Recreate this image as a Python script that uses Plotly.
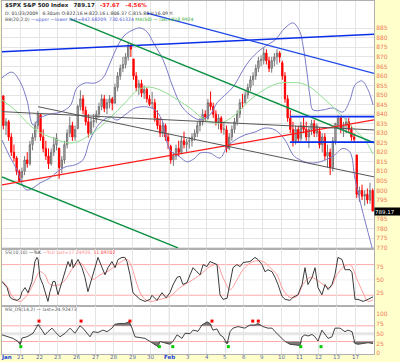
import plotly.graph_objects as go

# ---------------- data ----------------
day_labels = ["Jan", "21", "22", "23", "26", "27", "28", "29", "30", "Feb",
              "3", "4", "5", "6", "9", "10", "11", "12", "13", "17"]
BARS_PER_DAY = 7

open_ = [849.6, 834, 836, 828, 820, 817, 810,
         806.8, 810, 816, 814, 824, 828, 834,
         839.7, 828, 822, 818, 814, 820, 824,
         822.2, 812, 816, 824, 830, 834, 828,
         832.5, 844, 848, 842, 836, 830, 836,
         837.3, 840, 844, 848, 843, 846, 848,
         845.7, 854, 860, 864, 866, 870, 876,
         868.9, 860, 854, 856, 851, 853, 848,
         845.7, 846, 838, 834, 830, 834, 828,
         823.1, 816, 818, 822, 820, 826, 824,
         825.7, 826, 828, 830, 834, 836, 840,
         837.8, 846, 844, 840, 836, 838, 832,
         831.8, 822, 828, 832, 836, 840, 846,
         846.1, 850, 854, 858, 860, 864, 868,
         868.2, 872, 868, 864, 868, 870, 872,
         866.9, 860, 848, 838, 832, 826, 832,
         827.4, 834, 832, 828, 832, 835, 830,
         831, 824, 828, 818, 820, 812, 826,
         834, 838, 832, 834, 836, 832, 828,
         818.6, 798, 800, 797, 798, 795, 800]
high_ = [849.6, 838, 837, 830, 824, 818, 811,
         812, 818, 820, 826, 830, 836, 841.7,
         839.7, 832, 826, 822, 822, 828, 830,
         822.2, 818, 826, 832, 838.6, 836, 834,
         845, 852.5, 850, 844, 840, 838, 840,
         842, 846, 850.4, 850, 848, 850, 849,
         856, 862, 866, 870, 872, 877.9, 877,
         868.9, 862, 858, 858, 855, 854, 850,
         851.7, 848, 842, 838, 836, 835, 830,
         824, 820, 824, 826, 828, 830.8, 827,
         828, 830, 832, 836, 838, 842.6, 842,
         848, 851.9, 846, 842, 840, 839, 836,
         834, 830, 834, 838, 842, 848, 850.6,
         852, 856, 860, 862, 866, 870, 870.8,
         875, 874, 870, 870, 872, 874, 873,
         868, 862, 850, 842, 836, 834, 834,
         836, 838.2, 836, 834, 837, 837, 835,
         833, 830, 830, 824, 822, 828, 835.2,
         839.4, 839, 836, 838, 838, 834, 830,
         818.6, 802, 803, 800, 801, 804, 801]
low_ = [832, 829, 826, 818, 815, 808, 804.5,
        804.3, 808, 812, 813, 821, 826, 832,
        826, 820, 816, 811.3, 813, 818, 821,
        806.1, 809, 814, 822, 828, 826, 826,
        832, 842, 840, 834, 827.7, 829, 833,
        835.4, 838, 842, 841, 840, 843, 842,
        845.7, 852, 858, 862, 864, 868, 870,
        858, 852, 850, 849, 848, 846, 844.2,
        843, 836, 832, 828, 828, 826, 821.7,
        814, 812.9, 816, 818, 819, 822, 820,
        822, 823, 826, 828, 831, 834, 836,
        837, 842, 838, 834, 832, 830, 829.2,
        819.9, 821, 826, 830, 834, 838, 843,
        845.4, 848, 852, 855, 858, 862, 865,
        866, 866, 862, 861.7, 865, 866, 867,
        858, 846, 836, 830, 823, 824, 825,
        826, 830, 826, 822.3, 829, 828, 828,
        822, 820, 816, 812, 808.1, 810, 824,
        832, 830, 828, 830, 830, 826, 825.2,
        796, 794, 795, 792, 793, 793, 789.2]
close_ = [834, 836, 828, 820, 817, 810, 805.2,
          810, 816, 814, 824, 828, 834, 840.2,
          828, 822, 818, 814, 820, 824, 827.5,
          812, 816, 824, 830, 834, 828, 832,
          844, 848, 842, 836, 830, 836, 836.6,
          840, 844, 848, 843, 846, 848, 845.7,
          854, 860, 864, 866, 870, 876, 874.1,
          860, 854, 856, 851, 853, 848, 845.1,
          846, 838, 834, 830, 834, 828, 825.9,
          816, 818, 822, 820, 826, 824, 825.4,
          826, 828, 830, 834, 836, 840, 838.5,
          846, 844, 840, 836, 838, 832, 832.2,
          822, 828, 832, 836, 840, 846, 845.9,
          850, 854, 858, 860, 864, 868, 868.6,
          872, 868, 864, 868, 870, 872, 869.9,
          860, 848, 838, 832, 826, 832, 827.2,
          834, 832, 828, 832, 835, 830, 833.7,
          824, 828, 818, 820, 812, 826, 835.2,
          838, 832, 834, 836, 832, 828, 826.8,
          798, 800, 797, 798, 795, 800, 789.17]

# Bollinger bands / MA(50) (x in trading-day units)
bb_up_x = [0, 0.54, 0.97, 1.34, 1.67, 2.04, 2.58, 3.12, 3.66, 4.03,
           4.46, 5.00, 5.43, 5.81, 6.24, 6.61, 7.04, 7.42, 7.80, 8.12,
           8.66, 9.19, 9.68, 10.27, 10.65, 11.18, 11.56, 12.42, 12.96, 13.33,
           13.87, 14.25, 14.68, 15.22, 15.65, 16.02, 16.18, 16.40, 16.56, 16.72,
           17.26, 17.80, 18.33, 18.71, 18.98, 19.35, 19.68, 19.95]
bb_up_v = [859, 862, 857, 847.4, 834.3, 838, 840, 841, 844.3, 853.7,
           856.3, 856.3, 859, 866.8, 876.2, 881.5, 884.1, 885.2, 883.1, 877.8,
           868.4, 854.2, 843.8, 838.5, 837, 839.6, 845.9, 854.2, 863.1, 868.4,
           873.6, 876.2, 878.9, 885.2, 887.8, 883.1, 876.2, 861.6, 849, 842.2,
           842.2, 843.2, 841.1, 847.4, 855.3, 857.4, 852.7, 844.8]
bb_lo_x = [0, 0.43, 0.81, 1.13, 1.34, 1.67, 2.04, 2.58, 2.96, 3.39,
           3.92, 4.35, 4.73, 5.27, 5.81, 6.18, 6.61, 7.15, 7.80, 8.23,
           8.60, 9.03, 9.57, 9.95, 10.38, 10.65, 11.18, 11.72, 12.10, 12.53,
           13.06, 13.60, 14.14, 14.68, 15.22, 15.65, 16.02, 16.56, 17.10, 17.80,
           18.33, 18.71, 18.98, 19.41, 19.68, 19.95]
bb_lo_v = [826.4, 817.5, 810.7, 802.3, 800.2, 801.3, 803.9, 806.5, 809.7, 812.3,
           813.4, 816, 826.4, 835.3, 838.5, 836.9, 839.6, 843.2, 843.8, 842.2,
           836.9, 821.2, 817.5, 815, 817, 819.6, 819.6, 817, 822.8, 826.4,
           829.1, 830.6, 832.7, 831.7, 826.4, 818.6, 816, 814.4, 815, 818,
           822, 820, 806, 788, 778, 768]
ma_x = [0, 0.70, 1.67, 2.58, 3.76, 4.73, 5.81, 6.61, 7.31, 7.85,
        8.49, 9.19, 10.11, 10.91, 11.72, 12.53, 13.33, 14.25, 14.95, 15.48,
        16.02, 16.56, 17.20, 17.80, 18.33, 18.98, 19.52, 19.95]
ma_v = [847.4, 842.2, 832.7, 828, 824.9, 829.1, 838, 845.9, 852.7, 854.2,
        852.7, 849, 843.2, 837, 835.3, 839.6, 847.4, 853.7, 856.3, 856.5,
        856.3, 854.2, 849, 843.8, 838.5, 831.7, 826.4, 819]

# hand-drawn trend lines (start/end in data units)
blue_up_x, blue_up_y = [0, 20], [872.7, 881.9]
blue_dn_x, blue_dn_y = [7.80, 20], [893.0, 861.3]
green_up_x, green_up_y = [3.66, 20], [889.9, 824.9]
green_lo_x, green_lo_y = [0, 9.46], [807.1, 769.9]
red_x, red_y = [0, 20], [802.9, 837.0]
gray_a_x, gray_a_y = [0, 20], [841.3, 831.7]
gray_b_x, gray_b_y = [1.94, 20], [843.9, 807.1]
blue_h1_x, blue_h1_y = [15.48, 20], [838.7, 838.7]
blue_h2_x, blue_h2_y = [15.48, 20], [825.3, 825.3]

# slow stochastics
k_x = [0.00, 0.27, 0.43, 0.59, 0.81, 0.97, 1.08, 1.24, 1.40, 1.61,
       1.77, 1.88, 1.94, 2.04, 2.20, 2.42, 2.47, 2.58, 2.74, 2.85,
       3.01, 3.23, 3.39, 3.55, 3.66, 3.76, 3.82, 3.92, 4.09, 4.30,
       4.46, 4.62, 4.84, 5.00, 5.16, 5.38, 5.54, 5.70, 5.91, 6.08,
       6.24, 6.45, 6.61, 6.72, 6.88, 7.04, 7.26, 7.42, 7.69, 7.96,
       8.06, 8.33, 8.60, 8.82, 9.03, 9.19, 9.41, 9.57, 9.73, 9.95,
       10.11, 10.27, 10.48, 10.65, 10.81, 11.02, 11.18, 11.40, 11.56, 11.72,
       11.88, 12.10, 12.26, 12.42, 12.63, 12.80, 12.96, 13.33, 13.60, 13.76,
       13.98, 14.14, 14.30, 14.52, 14.68, 14.84, 15.05, 15.22, 15.48, 15.65,
       15.91, 16.13, 16.29, 16.45, 16.67, 16.83, 16.99, 17.20, 17.37, 17.53,
       17.74, 17.90, 18.06, 18.28, 18.44, 18.60, 18.71, 18.82, 18.98, 19.14,
       19.41, 19.68, 19.95]
k_v = [47, 35, 16, 12, 10, 14, 27, 35, 25, 47,
       86, 94, 90, 55, 41, 16, 8, 27, 47, 47,
       21, 47, 66, 86, 76, 90, 74, 80, 90, 74,
       55, 27, 55, 74, 94, 74, 60, 74, 86, 74,
       90, 94, 94, 86, 60, 25, 18, 12, 8, 12,
       20, 10, 25, 15, 25, 40, 55, 57, 41, 45,
       60, 74, 66, 60, 80, 76, 86, 82, 80, 21,
       12, 14, 47, 74, 80, 76, 84, 86, 94, 90,
       80, 66, 70, 66, 55, 41, 18, 12, 10, 16,
       21, 41, 74, 41, 55, 74, 35, 21, 41, 31,
       41, 60, 94, 90, 70, 70, 70, 64, 12, 12,
       8, 12, 17]
d_x = [0.00, 0.27, 0.59, 0.97, 1.34, 1.67, 2.04, 2.31, 2.58, 3.12,
       3.49, 3.82, 4.19, 4.57, 4.89, 5.27, 5.65, 5.97, 6.34, 6.72,
       6.99, 7.26, 7.58, 7.96, 8.49, 9.03, 9.57, 10.11, 10.65, 11.18,
       11.56, 11.88, 12.26, 12.63, 12.96, 13.49, 14.03, 14.41, 14.78, 15.11,
       15.48, 15.86, 16.18, 16.56, 16.94, 17.26, 17.63, 18.01, 18.33, 18.71,
       19.09, 19.41, 19.68, 19.95]
d_v = [47, 38, 16, 8, 20, 41, 66, 60, 41, 41,
       55, 74, 84, 66, 51, 60, 66, 74, 84, 90,
       74, 41, 16, 8, 12, 18, 35, 47, 60, 76,
       80, 55, 31, 50, 70, 86, 86, 74, 60, 31,
       16, 18, 41, 55, 50, 41, 35, 60, 74, 80,
       51, 25, 8, 11]

# RSI
rsi_x = [0.00, 0.27, 0.59, 0.86, 0.97, 1.08, 1.34, 1.67, 1.94, 2.15,
         2.31, 2.47, 2.69, 2.85, 3.12, 3.39, 3.66, 3.92, 4.19, 4.35,
         4.57, 4.73, 4.89, 5.16, 5.43, 5.65, 5.91, 6.08, 6.34, 6.61,
         6.83, 6.99, 7.15, 7.42, 7.69, 7.96, 8.23, 8.39, 8.49, 8.71,
         8.87, 9.03, 9.19, 9.41, 9.68, 9.84, 10.11, 10.27, 10.54, 10.75,
         11.02, 11.18, 11.34, 11.56, 11.72, 11.88, 12.10, 12.26, 12.42, 12.69,
         13.06, 13.33, 13.60, 13.76, 14.03, 14.30, 14.52, 14.68, 14.95, 15.22,
         15.48, 15.75, 16.02, 16.13, 16.29, 16.45, 16.67, 16.83, 16.99, 17.20,
         17.37, 17.53, 17.74, 17.90, 18.17, 18.44, 18.60, 18.82, 18.98, 19.14,
         19.41, 19.68, 19.95]
rsi_v = [47, 42, 38, 30, 22, 39, 42, 51, 73, 59,
         47, 55, 64, 55, 42, 51, 64, 51, 70, 64,
         51, 42, 55, 53, 59, 55, 64, 74, 76, 76,
         80, 64, 42, 40, 38, 30, 21, 17, 30, 28,
         25, 23, 30, 47, 38, 51, 50, 59, 56, 72,
         80, 76, 59, 62, 47, 42, 24, 55, 64, 68,
         64, 72, 72, 76, 68, 64, 64, 55, 42, 30,
         23, 21, 20, 42, 47, 44, 48, 42, 31, 59,
         47, 38, 42, 64, 64, 55, 59, 55, 25, 23,
         25, 27, 25]
rsi_red_x = [1.99, 4.25, 6.88, 11.29, 13.48, 13.78]
rsi_red_v = [82, 82, 82, 82, 82, 82]
rsi_green_x = [1.01, 8.46, 9.18, 12.17, 16.06, 17.15]
rsi_green_v = [17, 17, 17, 17, 17, 17]

price_ticks = [v for v in range(770, 890, 5) if v != 790]   # 790 sits under the price tag
last_price = 789.17

# ---------------- figure ----------------
FONT = "DejaVu Sans"
bar_x = [d + (i + 0.5) / BARS_PER_DAY
         for d in range(len(day_labels)) for i in range(BARS_PER_DAY)]

fig = go.Figure()

def line(x, y, color, width=1, axes=("x", "y"), shape="linear", dash="solid"):
    fig.add_trace(go.Scatter(x=x, y=y, mode="lines", xaxis=axes[0], yaxis=axes[1],
                             line=dict(color=color, width=width, shape=shape, dash=dash),
                             hoverinfo="skip"))

# Bollinger / MA
line(bb_up_x, bb_up_v, "#7B7BC8", 1, shape="spline")
line(bb_lo_x, bb_lo_v, "#7B7BC8", 1, shape="spline")
line(ma_x, ma_v, "#8FE08F", 1, shape="spline")

fig.add_trace(go.Candlestick(
    x=bar_x, open=open_, high=high_, low=low_, close=close_,
    xaxis="x", yaxis="y",
    increasing=dict(line=dict(color="#777777", width=1), fillcolor="#BBBBBB"),
    decreasing=dict(line=dict(color="#FF0000", width=1), fillcolor="#FF0000"),
    whiskerwidth=0, hoverinfo="skip"))

# trend lines
line(blue_up_x, blue_up_y, "#0A2FE8", 1.6)
line(blue_dn_x, blue_dn_y, "#1F48E8", 1.3)
line(green_up_x, green_up_y, "#0A9040", 1.5)
line(green_lo_x, green_lo_y, "#0A9040", 1.5)
line(red_x, red_y, "#FF1A1A", 1.4)
line(gray_a_x, gray_a_y, "#555555", 1)
line(gray_b_x, gray_b_y, "#555555", 1)
line(blue_h1_x, blue_h1_y, "#0A2FE8", 1.6)
line(blue_h2_x, blue_h2_y, "#0A2FE8", 1.6)

# stochastics
line(d_x, d_v, "#FF9A9A", 1, axes=("x2", "y2"), shape="spline")
line(k_x, k_v, "#3A3A3A", 1, axes=("x2", "y2"))

# RSI shading (below 30 / above 70)
lo = [min(v, 30) for v in rsi_v]
hi = [max(v, 70) for v in rsi_v]
fig.add_trace(go.Scatter(x=rsi_x, y=[30] * len(rsi_x), mode="lines", line=dict(width=0),
                         xaxis="x3", yaxis="y3", hoverinfo="skip"))
fig.add_trace(go.Scatter(x=rsi_x, y=lo, mode="lines", line=dict(width=0), fill="tonexty",
                         fillcolor="#7A7A7A", xaxis="x3", yaxis="y3", hoverinfo="skip"))
fig.add_trace(go.Scatter(x=rsi_x, y=[70] * len(rsi_x), mode="lines", line=dict(width=0),
                         xaxis="x3", yaxis="y3", hoverinfo="skip"))
fig.add_trace(go.Scatter(x=rsi_x, y=hi, mode="lines", line=dict(width=0), fill="tonexty",
                         fillcolor="#7A7A7A", xaxis="x3", yaxis="y3", hoverinfo="skip"))
line(rsi_x, rsi_v, "#444444", 1, axes=("x3", "y3"))
fig.add_trace(go.Scatter(x=rsi_red_x, y=rsi_red_v, mode="markers", xaxis="x3", yaxis="y3",
                         marker=dict(color="#FF0000", size=3, symbol="square"), hoverinfo="skip"))
fig.add_trace(go.Scatter(x=rsi_green_x, y=rsi_green_v, mode="markers", xaxis="x3", yaxis="y3",
                         marker=dict(color="#00CC00", size=3, symbol="square"), hoverinfo="skip"))

# ---------------- layout ----------------
L, R, T, B = 2, 26, 1, 8
PH = 362 - T - B
def py(pix):  # pixel row -> paper fraction
    return (362 - B - pix) / PH

grid = "#E4E4E4"
xcommon = dict(range=[0, 20], tickvals=list(range(20)), showgrid=True, gridcolor=grid,
               zeroline=False, showline=True, linecolor="#B0B0B0", mirror=True,
               ticks="", fixedrange=True, showticklabels=False)
tickfont = dict(family=FONT, size=6, color="#F07A5A")
ycommon = dict(side="right", showgrid=True, gridcolor=grid, zeroline=False,
               showline=True, linecolor="#B0B0B0", mirror=True, ticks="",
               tickfont=tickfont, fixedrange=True)

fig.update_layout(
    width=400, height=362,
    margin=dict(l=L, r=R, t=T, b=B),
    paper_bgcolor="#FFFFCC", plot_bgcolor="white",
    showlegend=False,
    font=dict(family=FONT, size=6, color="#333333"),
    xaxis=dict(xcommon, anchor="y", rangeslider=dict(visible=False)),
    xaxis2=dict(xcommon, anchor="y2"),
    xaxis3=dict(xcommon, anchor="y3"),
    yaxis=dict(ycommon, anchor="x", domain=[py(249), 1], range=[769.3, 899.3],
               tickvals=price_ticks),
    yaxis2=dict(ycommon, anchor="x2", domain=[py(306), py(249)], range=[-1, 110.5],
                tickvals=[25, 50, 75], showgrid=False),
    yaxis3=dict(ycommon, anchor="x3", domain=[0, py(306)], range=[-1.8, 120.4],
                tickvals=[0, 25, 50, 75, 100], showgrid=False),
)

# grid line for the price level hidden behind the tag
fig.add_shape(type="line", xref="x domain", yref="y", x0=0, x1=1, y0=790, y1=790,
              line=dict(color=grid, width=1), layer="below")

# Feb line darker
for yr in ("y", "y2", "y3"):
    fig.add_shape(type="line", xref="x", yref=f"{yr} domain", x0=9, x1=9, y0=0, y1=1,
                  line=dict(color="#9A9A9A", width=1), layer="below")

# reference lines in lower panels
for yv in (20, 80):
    fig.add_shape(type="line", xref="x2 domain", yref="y2", x0=0, x1=1, y0=yv, y1=yv,
                  line=dict(color="#FFAAAA", width=1), layer="below")
fig.add_shape(type="line", xref="x2 domain", yref="y2", x0=0, x1=1, y0=50, y1=50,
              line=dict(color="#EEEEEE", width=1), layer="below")
fig.add_shape(type="line", xref="x3 domain", yref="y3", x0=0, x1=1, y0=50, y1=50,
              line=dict(color="#E6E6E6", width=3), layer="below")
for yv in (30, 70):
    fig.add_shape(type="line", xref="x3 domain", yref="y3", x0=0, x1=1, y0=yv, y1=yv,
                  line=dict(color="#FFAAAA", width=1), layer="below")

def note(text, x_pix, y_pix, size=5, color="#333333"):
    fig.add_annotation(text=text, xref="paper", yref="paper",
                       x=(x_pix - L) / (400 - L - R), y=py(y_pix),
                       xanchor="left", yanchor="middle", showarrow=False,
                       font=dict(family=FONT, size=size, color=color))

note('<b>$SPX S&amp;P 500 Index</b>   <b>789.17</b>   '
     '<span style="color:#FF2222"><b>-37.67   -4.56%</b></span>', 3, 5, 5.5, "#222222")
note('D: 01/23/2009   6:30am O:822.16 H:822.16 L:806.37 C:815.80 V:16.09 Y:', 3, 13, 4.6)
note('BB(20,2.0) <span style="color:#4A55D0">\u2014upper \u2014lower last=842.68209, 730.61324</span> '
     '<span style="color:#2EA82E">MA(50) \u2014 last=818.9924</span>', 3, 20, 4.6, "#555555")
note('SS(10,10) <span style="color:#333333">\u2014%K</span> '
     '<span style="color:#FF8A8A">\u2014%D last=17.24926,</span> '
     '<span style="color:#FF3333">11.09702</span>', 3, 252, 4.6, "#666666")
note('RSI_DS(14,2) \u2014 last=24.92473', 3, 310, 4.6, "#555555")

# date labels along the bottom
for i, lab in enumerate(day_labels):
    is_month = lab in ("Jan", "Feb")
    xpos = 0.22 if i == 0 else i
    fig.add_annotation(text=f"<b>{lab}</b>" if is_month else lab,
                       xref="x3", yref="paper", x=xpos, y=py(357.5),
                       xanchor="center", yanchor="middle", showarrow=False,
                       font=dict(family=FONT, size=5.5,
                                 color="#2244DD" if is_month else "#5566AA"))

# last price tag
fig.add_annotation(text=f"{last_price:.2f}", xref="paper", yref="y",
                   x=1, y=last_price, xanchor="left", yanchor="middle", showarrow=False,
                   bgcolor="black", font=dict(family=FONT, size=5.5, color="white"),
                   width=26, height=7, borderpad=0, align="left")

fig.write_html("out.html", config={"displayModeBar": False},
               post_script="document.body.style.margin='0';"
                           "document.body.style.overflow='hidden';")
